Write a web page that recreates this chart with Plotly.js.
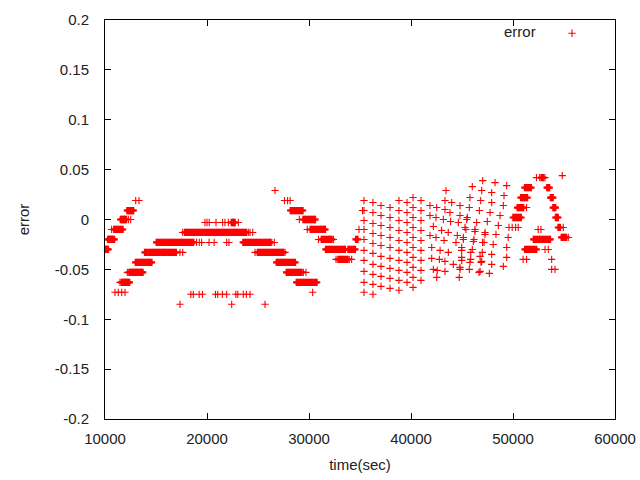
<!DOCTYPE html>
<html>
<head>
<meta charset="utf-8">
<script src="https://cdn.plot.ly/plotly-3.0.1.min.js"></script>
<style>html,body{margin:0;padding:0;background:#fff;}#chart{width:640px;height:480px;}</style>
</head>
<body>
<div id="chart"></div>
<script>
const xTickVals = [10000, 20000, 30000, 40000, 50000, 60000];
const xTickText = ['10000', '20000', '30000', '40000', '50000', '60000'];
const yTickVals = [-0.2, -0.15, -0.1, -0.05, 0, 0.05, 0.1, 0.15, 0.2];
const yTickText = ['-0.2', '-0.15', '-0.1', '-0.05', '0', '0.05', '0.1', '0.15', '0.2'];

// runs of samples that share one error value
const bandLevel = [
  -0.030, -0.020, -0.010, 0.000, 0.009, 0.019, -0.073, -0.063, -0.053, -0.043,
  -0.033, -0.023, -0.013, -0.003, -0.075, -0.085, 0.029, 0.019, 0.009, 0.000,
  -0.010, -0.020, -0.030, -0.040, -0.033, -0.043, -0.053, -0.063, -0.073,
  0.042, 0.044, 0.032, 0.022, 0.012, 0.002, -0.008, -0.018, -0.010, -0.020, -0.030, -0.040, -0.050
];
const bandTimes = [
  [10000,10100,10200,10300],
  [10300,10400,10500,10600,10700,10800,10900],
  [10650,10900,11000,11150,11300,11450,11600,11730],
  [11540,11650,11750,11850,11950,12060,12290,12520],
  [12190,12300,12400,12500,12600,12700,12770],
  [13010,13330],
  [10980,11300,11640,11960],
  [11470,11640,11750,11850,11950,12050,12150,12250,12380],
  [12190,12380,12500,12600,12700,12800,12900,13000,13100,13200,13300,13400,13500,13600,13690],
  [13010,13170,13300,13450,13600,13750,13900,14050,14200,14300,14410,14560],
  [13920,14080,14250,14410,14560,14710,14860,15010,15160,15310,15460,15610,15760,15880,16050,16210,16370,16520,16670,16820,16960,17350,17620],
  [15060,15210,15360,15510,15660,15810,15960,16110,16260,16410,16560,16710,16860,17010,17160,17310,17460,17610,17760,17910,18060,18210,18330,18500,18660,18980,19240,19470,20200,20700,21930,22150,23560,23710,23860,24010,24160,24310,24460,24610,24760,24910,25060,25210,25360,25510,25660,25810,25960,26110,26180,26350,26600],
  [17620,17840,17990,18140,18290,18440,18590,18740,18890,19040,19190,19340,19490,19640,19790,19940,20090,20240,20390,20540,20690,20840,20990,21140,21290,21440,21590,21740,21890,22040,22190,22340,22490,22640,22790,22940,23090,23240,23390,23540,23690,23840,24050,24220,24480],
  [19800,20000,20220,20880,21530,21760,22090,22420,22520,22620,22720,23070],
  [18420,18660,19230,19560,20830,21050,21510,21930,22830,23020,23560,23860,24220],
  [17350,22420,25690],
  [26670],
  [27600,27900,28150],
  [28200,28350,28500,28650,28800,28950,29100,29250,29370],
  [29050,29450,29600,29750,29900,30050,30200,30350,30500,30590],
  [29830,30160,30310,30460,30610,30760,30910,31060,31210,31360,31500,31570,34900],
  [30930,31240,31390,31540,31690,31840,31990,32060,32220,32390,34610,34750],
  [31660,31810,31960,32110,32260,32410,32560,32710,32860,33010,33160,33310,33460,33530,33860,34020,34180,34350,34510],
  [32650,32880,33030,33180,33330,33480,33630,33780,33950,34180],
  [24710,24970,25120,25270,25420,25570,25720,25870,26020,26170,26320,26470,26620,26770,26920,27070,27220,27370,27480,27650],
  [26830,26980,27130,27280,27430,27580,27730,27880,28030,28180,28330,28480,28630],
  [27810,27960,28110,28260,28410,28560,28710,28860,29010,29160,29270,29450,29700],
  [28790,28940,29090,29240,29390,29540,29690,29840,29990,30140,30290,30440,30590,30750],
  [30360],
  [52300,52620,52800,52950,53130],
  [54830],
  [51170,51320,51470,51620,51760,53350,53450,53550],
  [50780,50930,51080,51230,51380,53700,53800,53900],
  [50450,50600,50750,50900,51000,51330,53950,54050,54150],
  [50030,50180,50330,50480,50630,50780,54200,54300,54400],
  [49610,49920,50260,50510,54450,54600,54930],
  [49530,54770,54900,55050,55200,55420],
  [52470,52740],
  [52030,52180,52330,52480,52630,52780,52930,53080,53230,53380,53530,53630],
  [51180,51330,51480,51630,51780,51960,52120,52280,53140,53460],
  [50990,51330,53790],
  [53790,54120]
];

// scattered samples of the later part
const cloudTime = [
  35250,35390,35390,35390,35390,35390,35390,35390,35390,35390,35390,
  36270,36270,36270,36270,36270,36270,36270,36270,36270,36270,
  37060,37060,37060,37060,37060,37060,37060,37060,37060,
  37940,37940,37940,37940,37940,37940,37940,37940,37940,
  38820,38820,38820,38820,38820,38820,38820,38820,38820,38820,
  39610,39610,39610,39610,39610,39610,39610,39610,39610,
  40200,40200,40200,40200,40200,40200,40200,40200,40200,40200,
  40980,40980,40980,40980,40980,40980,40980,40980,40980,
  47030,48240,49380,46010,43430,46930,49120,45780,47910,43330,43990,44800,46830,47910,49050,41860,42520,43330,43820,44800,
  45720,46700,47750,48730,41860,42450,43170,43880,44640,45460,46440,47480,48560,42190,43000,43650,44540,45380,46270,47250,
  48330,41860,42450,43240,44410,45130,46110,47020,48060,49380,42030,42850,43660,44970,45860,46770,47910,42030,42780,43330,
  44150,44970,45780,46930,47910,42190,42570,43330,44800,45720,46770,47680,42520,44730,49050,
  45520,45290,45130,44970,44970,44800,46270,46170,46010,45850,47260,47160,46990,46860,46670,49380
];
const cloudErr = [
  0.009,0.019,0.009,-0.001,-0.010,-0.020,-0.031,-0.041,-0.052,-0.063,-0.073,
  0.017,0.007,-0.004,-0.014,-0.024,-0.034,-0.045,-0.055,-0.065,-0.075,
  0.014,0.004,-0.006,-0.016,-0.026,-0.037,-0.047,-0.057,-0.067,
  0.012,0.002,-0.008,-0.018,-0.028,-0.039,-0.049,-0.059,-0.069,
  0.019,0.009,-0.001,-0.011,-0.021,-0.031,-0.041,-0.051,-0.061,-0.071,
  0.017,0.007,-0.003,-0.013,-0.023,-0.033,-0.043,-0.053,-0.063,
  0.022,0.012,0.002,-0.008,-0.018,-0.028,-0.038,-0.048,-0.058,-0.068,
  0.019,0.009,-0.001,-0.011,-0.021,-0.031,-0.041,-0.051,-0.061,
  0.039,0.037,0.034,0.033,0.029,0.029,0.024,0.022,0.027,0.019,0.017,0.014,0.019,0.017,0.014,0.014,0.012,0.010,0.007,0.004,
  0.012,0.009,0.007,0.004,0.004,0.002,0.000,-0.002,-0.003,0.000,-0.003,-0.002,-0.006,-0.007,-0.011,-0.013,-0.016,-0.010,-0.012,-0.015,
  -0.015,-0.016,-0.018,-0.021,-0.023,-0.020,-0.022,-0.023,-0.025,-0.028,-0.028,-0.031,-0.033,-0.031,-0.033,-0.037,-0.035,-0.039,-0.040,-0.042,
  -0.045,-0.041,-0.043,-0.042,-0.045,-0.050,-0.051,-0.052,-0.050,-0.050,-0.052,-0.054,-0.058,-0.058,-0.047,
  0.002,-0.008,-0.018,-0.028,-0.038,-0.048,-0.010,-0.020,-0.030,-0.040,-0.013,-0.023,-0.033,-0.043,-0.053,-0.038
];

// split samples: isolated ones, and ones packed so closely in time that
// their crosses overlap into solid runs (drawn with a heavier stroke)
const sx = [], sy = [], rx = [], ry = [];
cloudTime.forEach((t, i) => { sx.push(t); sy.push(cloudErr[i]); });
bandTimes.forEach((times, i) => {
  times.forEach((t, j) => {
    const prev = j > 0 ? t - times[j - 1] : Infinity;
    const next = j < times.length - 1 ? times[j + 1] - t : Infinity;
    if (Math.min(prev, next) <= 160) { rx.push(t); ry.push(bandLevel[i]); }
    else { sx.push(t); sy.push(bandLevel[i]); }
  });
});

const fontFam = 'Liberation Sans, Arial, sans-serif';
const textFont = {family: fontFam, size: 15, color: '#222'};
const axisCommon = {
  ticks: 'inside', ticklen: 6, tickwidth: 1, tickcolor: '#000',
  showline: true, linecolor: '#000', linewidth: 1, mirror: 'allticks',
  showgrid: false, zeroline: false,
  tickfont: textFont
};

const sparse = {
  type: 'scatter', mode: 'markers', x: sx, y: sy, name: '', showlegend: true,
  marker: {symbol: 'cross-thin', size: 5.2, color: '#ff0000', line: {color: '#ff0000', width: 1.1}}
};
const runs = {
  type: 'scatter', mode: 'markers', x: rx, y: ry, name: '', showlegend: false,
  marker: {symbol: 'cross-thin', size: 5.2, color: '#ff0000', line: {color: '#ff0000', width: 2.2}}
};

const layout = {
  width: 640, height: 480,
  margin: {l: 105, r: 25, t: 20, b: 61},
  paper_bgcolor: '#fff', plot_bgcolor: '#fff',
  showlegend: true,
  legend: {x: 0.9667, xanchor: 'right', y: 1.0075, yanchor: 'top', bgcolor: 'rgba(0,0,0,0)',
    title: {text: 'error\u00a0\u00a0', side: 'left', font: textFont},
    font: textFont},
  xaxis: Object.assign({}, axisCommon, {range: [10000, 60000], tickvals: xTickVals, ticktext: xTickText,
    ticklabelstandoff: 6,
    title: {text: 'time(sec)', font: textFont, standoff: 13}}),
  yaxis: Object.assign({}, axisCommon, {range: [-0.2, 0.2], tickvals: yTickVals, ticktext: yTickText,
    ticklabelstandoff: 12,
    title: {text: 'error', font: textFont, standoff: 21}})
};

Plotly.newPlot('chart', [sparse, runs], layout, {staticPlot: true, displayModeBar: false});
</script>
</body>
</html>
